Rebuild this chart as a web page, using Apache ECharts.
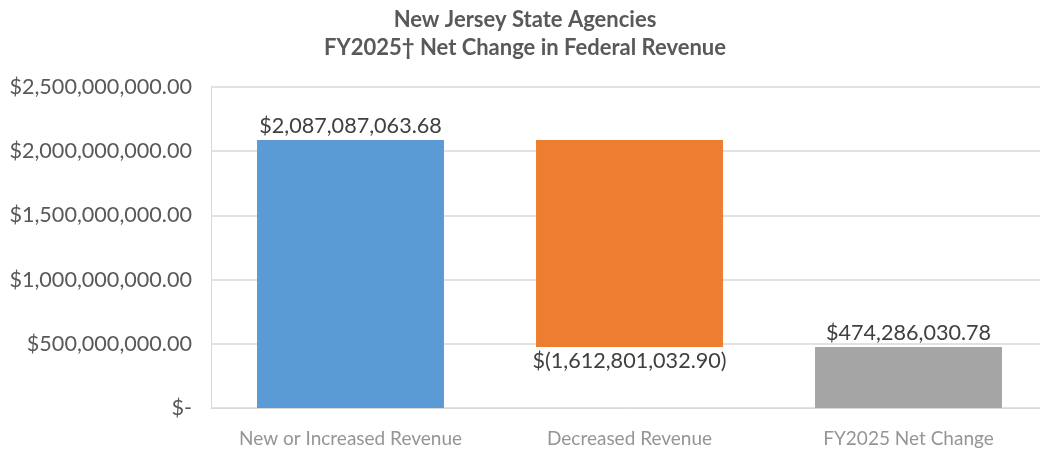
<!DOCTYPE html>
<html>
<head>
<meta charset="utf-8">
<script src="https://cdn.jsdelivr.net/npm/echarts@6/dist/echarts.min.js"></script>
<style>
  html, body { margin: 0; padding: 0; background: #fff; }
  #chart { width: 1040px; height: 453px; }
</style>
</head>
<body>
<div id="chart"></div>
<script>
// waterfall data
const categories = ['New or Increased Revenue', 'Decreased Revenue', 'FY2025 Net Change'];
const changes = [2087087063.68, -1612801032.90, 474286030.78];
const kinds = ['increase', 'decrease', 'total'];
const colors = ['#5b9bd5', '#ed7d31', '#a5a5a5'];
const yTicks = [0, 500000000, 1000000000, 1500000000, 2000000000, 2500000000];

function money(v) {
    if (v === 0) return '$-';
    const s = Math.abs(v).toLocaleString('en-US', { minimumFractionDigits: 2, maximumFractionDigits: 2 });
    return v < 0 ? '$(' + s + ')' : '$' + s;
}

// build base + visible stacks
const baseData = [];
const barData = [];
let running = 0;
changes.forEach((v, i) => {
    if (kinds[i] === 'total') {
        baseData.push(0);
        barData.push({ value: v, raw: v, itemStyle: { color: colors[i] }, label: { position: 'top' } });
    } else if (v >= 0) {
        baseData.push(running);
        barData.push({ value: v, raw: v, itemStyle: { color: colors[i] }, label: { position: 'top' } });
        running += v;
    } else {
        running += v;
        baseData.push(running);
        barData.push({ value: -v, raw: v, itemStyle: { color: colors[i] }, label: { position: 'bottom' } });
    }
});

const chart = echarts.init(document.getElementById('chart'));
chart.setOption({
    animation: false,
    textStyle: { fontFamily: 'Lato' },
    title: {
        text: 'New Jersey State Agencies\nFY2025\u2020 Net Change in Federal Revenue',
        left: 520,
        textAlign: 'center',
        top: 1,
        textStyle: { fontFamily: 'Lato', fontSize: 22, fontWeight: 'bold', color: '#595959', lineHeight: 28 }
    },
    grid: { left: 211, width: 837, top: 87, bottom: 45, outerBoundsMode: 'none' },
    xAxis: {
        type: 'category',
        data: categories,
        axisLine: { lineStyle: { color: '#d9d9d9', width: 1 } },
        axisTick: { show: false },
        axisLabel: { color: '#959595', fontSize: 19, margin: 21, interval: 0 }
    },
    yAxis: {
        type: 'value',
        min: yTicks[0],
        max: yTicks[yTicks.length - 1],
        interval: yTicks[1] - yTicks[0],
        axisLine: { show: true, lineStyle: { color: '#d9d9d9' } },
        splitLine: { lineStyle: { color: '#d9d9d9', width: 1.5 } },
        axisLabel: {
            color: '#595959', fontSize: 21.6, margin: 19,
            formatter: v => money(v)
        }
    },
    series: [
        {
            type: 'bar',
            stack: 'wf',
            data: baseData,
            itemStyle: { color: 'transparent' },
            barWidth: '67%',
            silent: true
        },
        {
            type: 'bar',
            stack: 'wf',
            data: barData,
            barWidth: '67%',
            label: {
                show: true,
                color: '#404040',
                fontSize: 21.6,
                distance: 3,
                formatter: p => money(p.data.raw)
            }
        }
    ]
});
</script>
</body>
</html>
